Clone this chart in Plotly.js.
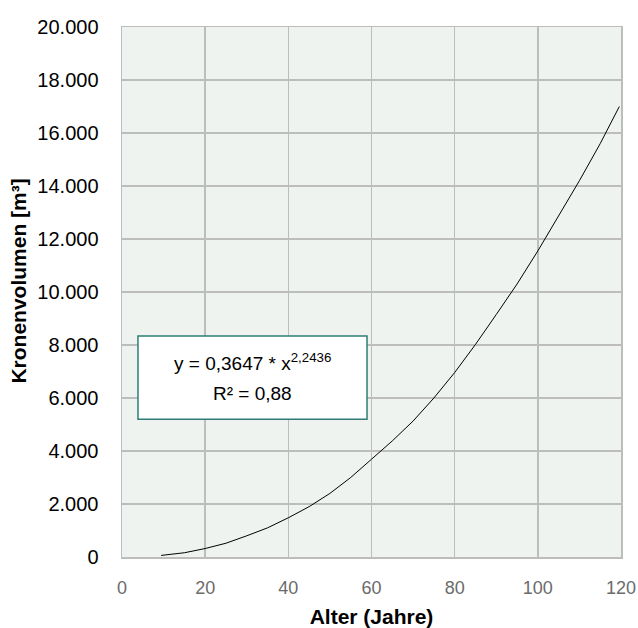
<!DOCTYPE html>
<html>
<head>
<meta charset="utf-8">
<script src="https://cdn.plot.ly/plotly-3.0.1.min.js"></script>
<style>html,body{margin:0;padding:0;background:#fff;}#chart{width:638px;height:628px;}</style>
</head>
<body>
<div id="chart"></div>
<script>
// Alter (Jahre) and Kronenvolumen [m³]
const alter = [9.4, 12, 15, 20, 25, 30, 35, 40, 45, 50, 55, 60, 65, 70, 75, 80, 85, 90, 95, 100, 105, 110, 115, 119.6];
const volumen = [60, 100, 160, 320, 520, 800, 1100, 1480, 1900, 2400, 3000, 3690, 4380, 5130, 6000, 6960, 8020, 9150, 10300, 11550, 12850, 14200, 15600, 17000];
const xTicks = [0, 20, 40, 60, 80, 100, 120];
const yTicks = [0, 2000, 4000, 6000, 8000, 10000, 12000, 14000, 16000, 18000, 20000];
const formelZeile = "y = 0,3647 * x<sup>2,2436</sup>";
const bestZeile = "R² = 0,88";

const gridC = "#bdbdbd";
const fontFam = "Liberation Sans, Arial, Helvetica, sans-serif";

const trace = {
  x: alter, y: volumen, type: "scatter", mode: "lines",
  line: {color: "#000", width: 1}, hoverinfo: "skip", showlegend: false
};

const layout = {
  width: 638, height: 628,
  margin: {l: 122, r: 17, t: 27, b: 71, pad: 0},
  paper_bgcolor: "#fff", plot_bgcolor: "#eff3f0",
  separators: ",.",
  font: {family: fontFam, color: "#000"},
  xaxis: {
    range: [0, 120], tickvals: xTicks, tickformat: ",d",
    showgrid: true, gridcolor: gridC, gridwidth: 1.5,
    showline: true, linecolor: gridC, linewidth: 1.5, mirror: true,
    zeroline: false, ticks: "outside", ticklen: 14, tickcolor: "rgba(0,0,0,0)",
    tickfont: {size: 18, color: "#6b6b6b", family: fontFam},
    title: {text: "<b>Alter (Jahre)</b>", font: {size: 21, color: "#000", family: fontFam}, standoff: 12}
  },
  yaxis: {
    range: [0, 20000], tickvals: yTicks, tickformat: ",d",
    showgrid: true, gridcolor: gridC, gridwidth: 1.5,
    showline: true, linecolor: gridC, linewidth: 1.5, mirror: true,
    zeroline: false, ticks: "outside", ticklen: 18, tickcolor: "rgba(0,0,0,0)",
    tickfont: {size: 20, color: "#000", family: fontFam},
    title: {text: "", font: {size: 21}}
  },
  shapes: [{
    type: "rect", xref: "paper", yref: "paper",
    x0: 0.032, x1: 0.491, y0: 0.26, y1: 0.417,
    fillcolor: "#fff", line: {color: "#2f7d76", width: 1.5}, layer: "above"
  }],
  annotations: [
    {xref: "paper", yref: "paper", x: -0.208, y: 0.52, text: "<b>Kronenvolumen [m³]</b>", showarrow: false,
     textangle: -90, font: {size: 21, color: "#000", family: fontFam}, xanchor: "center", yanchor: "middle"},
    {xref: "paper", yref: "paper", x: 0.262, y: 0.368, text: formelZeile, showarrow: false,
     font: {size: 19, color: "#000", family: fontFam}, xanchor: "center", yanchor: "middle"},
    {xref: "paper", yref: "paper", x: 0.262, y: 0.308, text: bestZeile, showarrow: false,
     font: {size: 19, color: "#000", family: fontFam}, xanchor: "center", yanchor: "middle"}
  ]
};

Plotly.newPlot("chart", [trace], layout, {staticPlot: true, displayModeBar: false});
</script>
</body>
</html>
